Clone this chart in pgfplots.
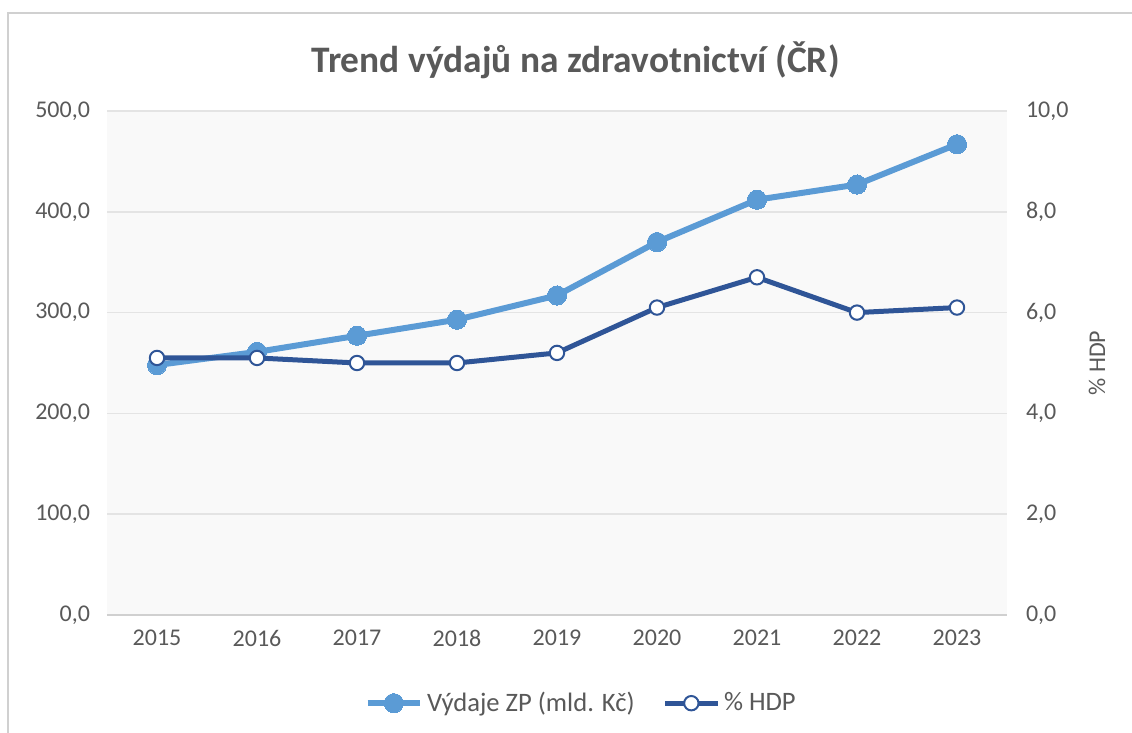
\documentclass[border=0pt]{standalone}
\usepackage{pgfplots}
\pgfplotsset{compat=1.18}
\usepackage{fontspec}
\setmainfont{Carlito}
\definecolor{lblue}{HTML}{5B9BD5}
\definecolor{dblue}{HTML}{2F5597}
\definecolor{txt}{HTML}{595959}
\definecolor{gridc}{HTML}{E4E4E4}
\definecolor{axisc}{HTML}{D0D0D0}
\definecolor{bgc}{HTML}{F9F9F9}
\begin{document}
\begin{tikzpicture}
\pgfplotsset{
  every axis/.append style={
    scale only axis, width=450pt, height=252pt,
    xmin=-0.5, xmax=8.5, ymin=0,
    tick style={draw=none},
    ticklabel style={text=txt,font=\fontsize{12}{14}\selectfont},
    yticklabel style={/pgf/number format/fixed, /pgf/number format/fixed zerofill, /pgf/number format/precision=1, /pgf/number format/use comma, /pgf/number format/1000 sep={}, /pgf/number format/assume math mode=true},
  },
  /pgfplots/legend image code/.code={\draw[mark repeat=2,mark phase=2,#1] plot coordinates {(0cm,0cm) (0.46cm,0cm) (0.92cm,0cm)};},
}
\begin{scope}[x=0.5pt,y=-0.5pt,shift={(-53.5pt,307.5pt)}]
\path[use as bounding box] (0,0) rectangle (1132,733);
\draw[axisc,line width=1pt] (8,733) -- (8,13) -- (1132,13);
\node[text=txt,font=\fontsize{18.7}{22}\selectfont\bfseries] at (575.5,60) {Trend výdajů na zdravotnictví (ČR)};
\end{scope}
\begin{axis}[
  ymax=500, ytick={0,100,...,500},
  axis background/.style={fill=bgc},
  axis x line*=bottom, axis y line*=left,
  x axis line style={draw=axisc,line width=1pt},
  y axis line style={draw=none},
  ymajorgrids, grid style={gridc,line width=0.8pt},
  xtick={0,...,8}, xticklabels={2015,2016,2017,2018,2019,2020,2021,2022,2023},
  xticklabel style={yshift=-4pt},
  yticklabel style={xshift=-5pt},
  clip=false,
  legend style={at={(0.528,-0.175)}, anchor=center, draw=none, fill=none, legend columns=2,
    font=\fontsize{13.3}{15}\selectfont, text=txt, inner sep=0pt,
    /tikz/every even column/.append style={column sep=12pt}},
]
\addplot[lblue, line width=3pt, mark=*, mark size=4.8pt, mark options={fill=lblue,draw=lblue,line width=0pt}] coordinates {
(0,248) (1,261) (2,277) (3,293) (4,317) (5,370) (6,412) (7,427) (8,467)};
\addlegendentry{Výdaje ZP (mld. Kč)}
\addlegendimage{dblue, line width=2.5pt, mark=*, mark size=3.6pt, mark options={fill=white,draw=dblue,line width=1pt}}
\addlegendentry{\% HDP}
\end{axis}
\begin{axis}[
  ymax=10, ytick={0,2,...,10},
  axis x line=none, axis y line*=right,
  y axis line style={draw=none},
  xtick=\empty,
  yticklabel style={xshift=6pt},
  ylabel={\% HDP},
  ylabel style={at={(axis description cs:1.1,0.5)}, anchor=center, text=txt, font=\fontsize{12}{14}\selectfont},
  clip=false,
]
\addplot[dblue, line width=2.5pt, mark=*, mark size=3.6pt, mark options={fill=white,draw=dblue,line width=1pt}] coordinates {
(0,5.1) (1,5.1) (2,5.0) (3,5.0) (4,5.2) (5,6.1) (6,6.7) (7,6.0) (8,6.1)};
\end{axis}
\end{tikzpicture}
\end{document}
